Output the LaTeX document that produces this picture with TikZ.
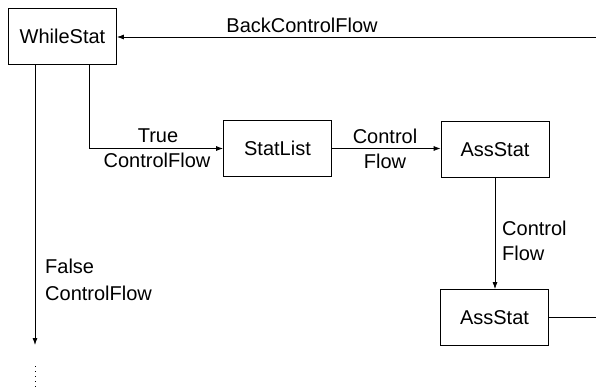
\documentclass[tikz,border=0pt]{standalone}
\usepackage{fontspec}
\setmainfont{Liberation Sans}
\usetikzlibrary{arrows.meta}
\begin{document}
\begin{tikzpicture}[x=1pt,y=-1pt,
  box/.style={draw, line width=0.8pt, minimum width=108pt, minimum height=56pt, inner sep=0pt, font=\fontsize{20}{24}\selectfont},
  lbl/.style={font=\fontsize{20}{24}\selectfont, inner sep=0pt},
  flow/.style={draw, line width=0.8pt, -{Latex[length=7pt,width=5pt]}},
  plain/.style={draw, line width=0.8pt}]
\useasboundingbox (0,0) rectangle (596,388);
\node[box] (ws) at (62.5,36) {WhileStat};
\node[box] (sl) at (277.5,148.5) {StatList};
\node[box] (a1) at (495,149.5) {AssStat};
\node[box] (a2) at (494.5,317.5) {AssStat};
\coordinate (backR) at (596,37);
\coordinate (a2R) at (596,317.5);
\coordinate (fEnd) at (35,345);
\coordinate (dTop) at (35,366);
\coordinate (dBot) at (35,388);
\draw[flow] (backR) -- (backR -| ws.east);
\draw[flow] ([xshift=26.5pt]ws.south) |- (sl.west);
\draw[flow] (sl.east) -- (sl.east -| a1.west);
\draw[flow] (a1.south) -- (a1.south |- a2.north);
\draw[plain] (a2.east) -- (a2R);
\draw[flow] ([xshift=-27.5pt]ws.south) -- (fEnd);
\draw[line width=1pt, dash pattern=on 1pt off 4pt] (dTop) -- (dBot);
\node[lbl, anchor=base] (lback) at (302,32) {BackControlFlow};
\node[lbl, anchor=base] (ltrue1) at (158,142) {True};
\node[lbl, anchor=base] (ltrue2) at (157,167) {ControlFlow};
\node[lbl, anchor=base] (lcf1) at (385,143) {Control};
\node[lbl, anchor=base] (lcf2) at (385,168) {Flow};
\node[lbl, anchor=base west] (lv1) at (502,235) {Control};
\node[lbl, anchor=base west] (lv2) at (502,260) {Flow};
\node[lbl, anchor=base west] (lf1) at (45,273) {False};
\node[lbl, anchor=base west] (lf2) at (45,300) {ControlFlow};
\end{tikzpicture}
\end{document}
